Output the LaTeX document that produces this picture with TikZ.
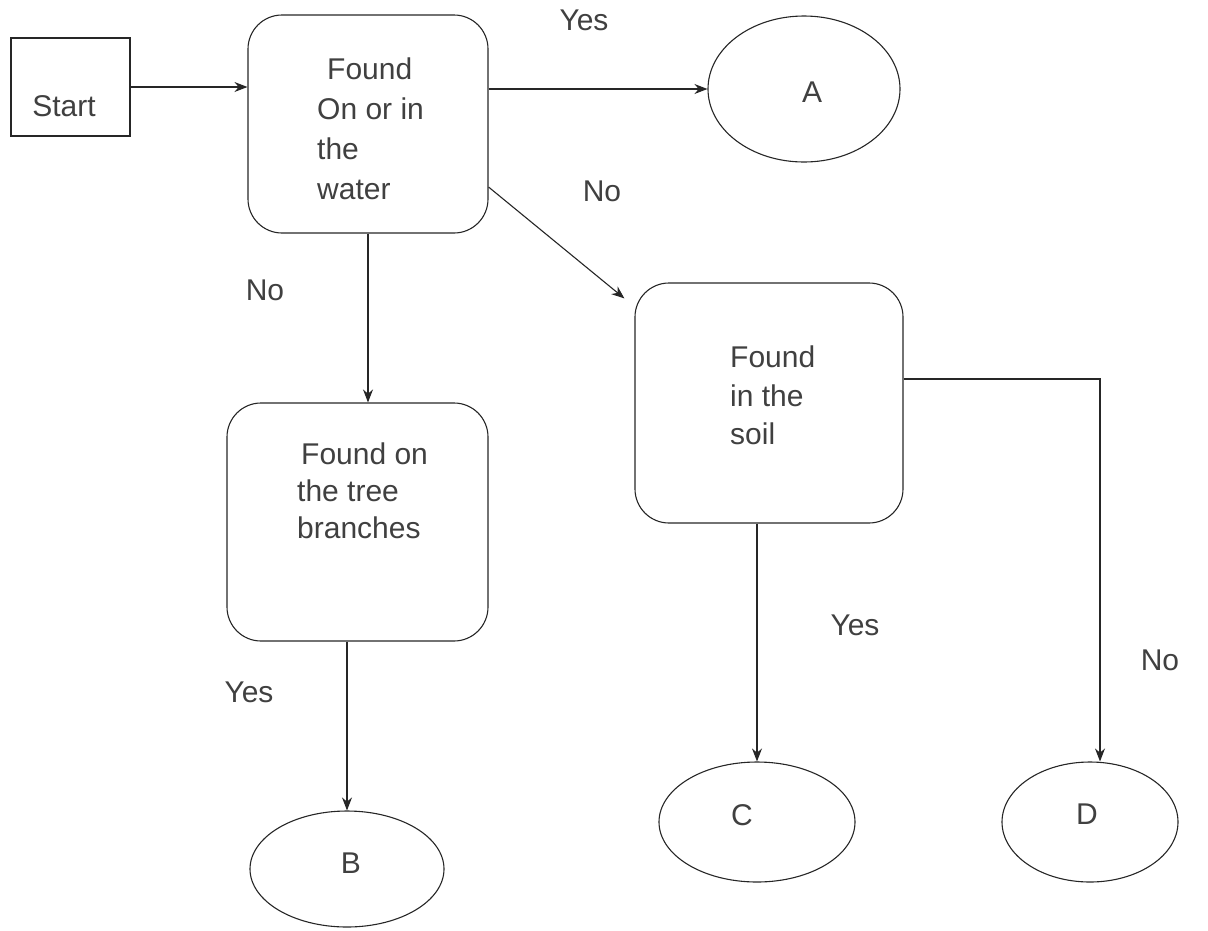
\documentclass[tikz,border=0pt]{standalone}
\usepackage{fontspec}
\setmainfont{Liberation Sans}
\usetikzlibrary{arrows.meta,shapes.geometric,calc}
\begin{document}
\begin{tikzpicture}[x=1pt,y=-1pt,
  line/.style={draw=black!85, line width=1.1pt},
  arr/.style={line, -{Stealth[length=13pt,width=10pt]}},
  sqbox/.style={line, rectangle, inner sep=0pt},
  rbox/.style={line, rectangle, rounded corners=34pt, inner sep=0pt},
  oval/.style={line, ellipse, inner sep=0pt},
  txt/.style={text=black!75, inner sep=0pt, font=\fontsize{30}{40}\selectfont},
  btxt/.style={txt, align=left, anchor=north west}]
\useasboundingbox (0,0) rectangle (1208,930);

% boxes
\node[sqbox, minimum width=119pt, minimum height=98pt] (start) at (70.5,87) {};
\node[rbox, minimum width=240pt, minimum height=218pt] (found1) at (368,124) {};
\node[rbox, minimum width=268pt, minimum height=240pt] (soil) at (769,403) {};
\node[rbox, minimum width=261pt, minimum height=238pt] (tree) at (357.5,522) {};

% ovals
\node[oval, minimum width=192pt, minimum height=146pt] (A) at (804,89) {};
\node[oval, minimum width=194pt, minimum height=116pt] (B) at (347,869) {};
\node[oval, minimum width=196pt, minimum height=120pt] (C) at (757,822) {};
\node[oval, minimum width=176pt, minimum height=120pt] (D) at (1090,822) {};

% texts
\node[txt] (tstart) at (64,106) {Start};
\node[btxt] (tfound1) at (317,58) {\hspace{10pt}Found\\On or in\\the\\water};
\node[btxt, font=\fontsize{30}{37}\selectfont] (ttree) at (297,443) {\hspace{4pt}Found on\\the tree\\branches};
\node[btxt, font=\fontsize{30}{38.5}\selectfont] (tsoil) at (730,346) {Found\\in the\\soil};
\node[txt] (tA) at (812,92) {A};
\node[txt] (tB) at (351,863) {B};
\node[txt] (tC) at (742,815) {C};
\node[txt] (tD) at (1087,814) {D};

% edge labels
\node[txt] (lyes1) at (584,20) {Yes};
\node[txt] (lno1) at (602,191) {No};
\node[txt] (lno2) at (265,290) {No};
\node[txt] (lyes2) at (249,692) {Yes};
\node[txt] (lyes3) at (855,625) {Yes};
\node[txt] (lno3) at (1160,660) {No};

% connectors
\draw[arr] (start.east) -- (found1.west |- start.east);
\draw[arr] (found1.east |- A.west) -- (A.west);
\coordinate (f1out) at ($(found1.east)+(0,63)$);
\coordinate (soilin) at ($(soil.north west)+(-10,16)$);
\draw[arr] (f1out) -- (soilin);
\draw[arr] (found1.south) -- (found1.south |- tree.north);
\draw[arr] (B.north |- tree.south) -- (B.north);
\draw[arr] (C.north |- soil.south) -- (C.north);
\coordinate (soilout) at ($(soil.east)+(0,-24)$);
\coordinate (Din) at ($(D.north)+(10,0)$);
\draw[arr] (soilout) -| (Din);
\end{tikzpicture}
\end{document}
